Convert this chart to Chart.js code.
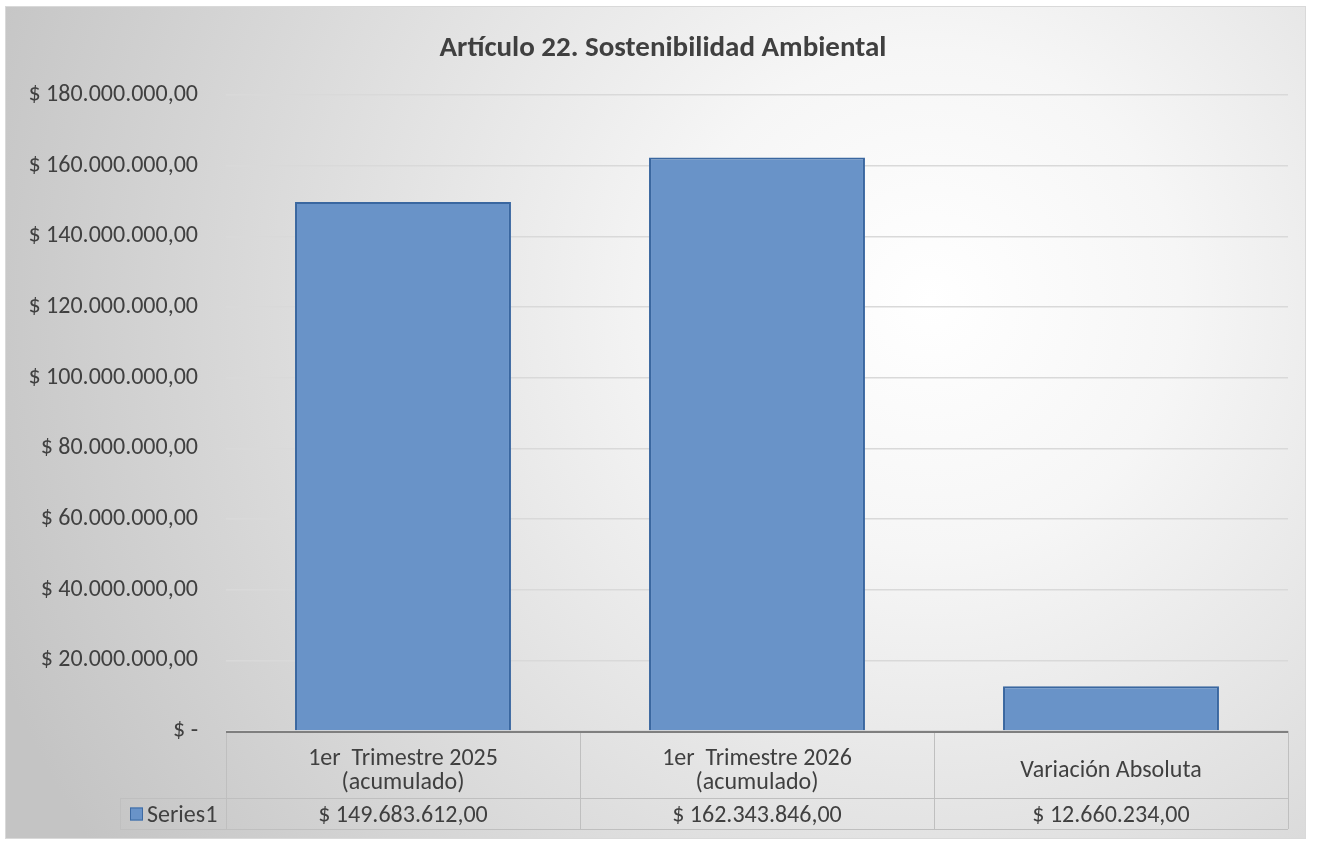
<!DOCTYPE html>
<html>
<head>
<meta charset="utf-8">
<script src="https://cdn.jsdelivr.net/npm/chart.js@4.4.1/dist/chart.umd.min.js"></script>
<style>
  html, body { margin: 0; padding: 0; background: #fff; }
  #wrap { width: 1319px; height: 846px; position: relative; }
</style>
</head>
<body>
<div id="wrap"><canvas id="chart"></canvas></div>
<script>
// Data
const chartTitle = 'Artículo 22. Sostenibilidad Ambiental';
const categories = [
    ['1er  Trimestre 2025', '(acumulado)'],
    ['1er  Trimestre 2026', '(acumulado)'],
    ['Variación Absoluta']
];
const values = [149683612, 162343846, 12660234];
const seriesName = 'Series1';
const yMax = 180000000;
const yStep = 20000000;

const FONT = "Carlito, Lato, 'Liberation Sans', sans-serif";
const TEXT = '#404040';

// "$ 149.683.612,00" style
function money(v) {
    if (v === 0) return '$ -';
    const parts = v.toFixed(2).split('.');
    const intPart = parts[0].replace(/\B(?=(\d{3})+(?!\d))/g, '.');
    return '$ ' + intPart + ',' + parts[1];
}

// Excel-like gradient background, border and title
const backgroundPlugin = {
    id: 'bg',
    beforeDraw(chart) {
        const c = chart.ctx;
        c.save();
        const g = c.createRadialGradient(930, 300, 0, 930, 300, 1000);
        g.addColorStop(0, '#ffffff');
        g.addColorStop(0.25, '#f6f6f6');
        g.addColorStop(1, '#c4c4c4');
        c.fillStyle = g;
        c.fillRect(5, 6, 1300, 832);
        c.strokeStyle = '#d9d9d9';
        c.lineWidth = 1;
        c.strokeRect(5.5, 6.5, 1300, 832);

        c.fillStyle = TEXT;
        c.font = 'bold 29px ' + FONT;
        c.textAlign = 'center';
        c.textBaseline = 'middle';
        c.fillText(chartTitle, 663, 49);
        c.restore();
    }
};

// Data table under the plot area
const tablePlugin = {
    id: 'dataTable',
    afterDraw(chart) {
        const c = chart.ctx;
        const area = chart.chartArea;
        const x = chart.scales.x;
        const n = categories.length;
        const colW = (area.right - area.left) / n;
        const top = area.bottom;
        const headBottom = top + 67;
        const rowBottom = headBottom + 31;
        const legendLeft = 120;

        c.save();
        c.strokeStyle = '#bfbfbf';
        c.lineWidth = 1;
        c.beginPath();
        // verticals
        for (let i = 0; i <= n; i++) {
            const px = Math.round(area.left + i * colW) + 0.5;
            c.moveTo(px, top);
            c.lineTo(px, rowBottom);
        }
        c.moveTo(legendLeft + 0.5, headBottom);
        c.lineTo(legendLeft + 0.5, rowBottom);
        // horizontals
        c.moveTo(legendLeft, headBottom + 0.5);
        c.lineTo(area.right, headBottom + 0.5);
        c.moveTo(legendLeft, rowBottom + 0.5);
        c.lineTo(area.right, rowBottom + 0.5);
        c.stroke();

        // axis line on top of the table
        c.strokeStyle = '#7f7f7f';
        c.lineWidth = 2;
        c.beginPath();
        c.moveTo(area.left, top + 1);
        c.lineTo(area.right, top + 1);
        c.stroke();

        c.fillStyle = TEXT;
        c.font = '24px ' + FONT;
        c.textAlign = 'center';
        c.textBaseline = 'middle';
        const headMid = (top + headBottom) / 2 + 6;
        categories.forEach((lines, i) => {
            const cx = x.getPixelForValue(i);
            const lh = 24;
            const y0 = headMid - (lines.length - 1) * lh / 2;
            lines.forEach((t, j) => c.fillText(t, cx, y0 + j * lh));
            c.fillText(money(values[i]), cx, (headBottom + rowBottom) / 2 + 2);
        });

        // legend key
        const ky = (headBottom + rowBottom) / 2;
        c.fillStyle = '#6993c8';
        c.fillRect(130, ky - 6, 13, 13);
        c.strokeStyle = '#3d6aa3';
        c.lineWidth = 1;
        c.strokeRect(130.5, ky - 5.5, 12, 12);
        c.fillStyle = TEXT;
        c.textAlign = 'left';
        c.fillText(seriesName, 147, ky + 2);
        c.restore();
    }
};

new Chart(document.getElementById('chart'), {
    type: 'bar',
    data: {
        labels: categories,
        datasets: [{
            label: seriesName,
            data: values,
            backgroundColor: '#6993c8',
            borderColor: '#3a67a0',
            borderWidth: 2,
            categoryPercentage: 1,
            barPercentage: 0.61,
        }]
    },
    options: {
        responsive: true,
        maintainAspectRatio: false,
        animation: false,
        layout: { padding: { left: 0, top: 95, right: 31, bottom: 115 } },
        plugins: {
            legend: { display: false },
            tooltip: { enabled: false },
            title: { display: false }
        },
        scales: {
            x: { display: false },
            y: {
                min: 0,
                max: yMax,
                afterFit(scale) { scale.width = 226; },
                border: { display: false },
                grid: { color: '#d9d9d9', lineWidth: 1.5, drawTicks: false },
                ticks: {
                    stepSize: yStep,
                    padding: 28,
                    color: TEXT,
                    font: { family: FONT, size: 24 },
                    callback: v => money(v)
                }
            }
        }
    },
    plugins: [backgroundPlugin, tablePlugin]
});
</script>
</body>
</html>
